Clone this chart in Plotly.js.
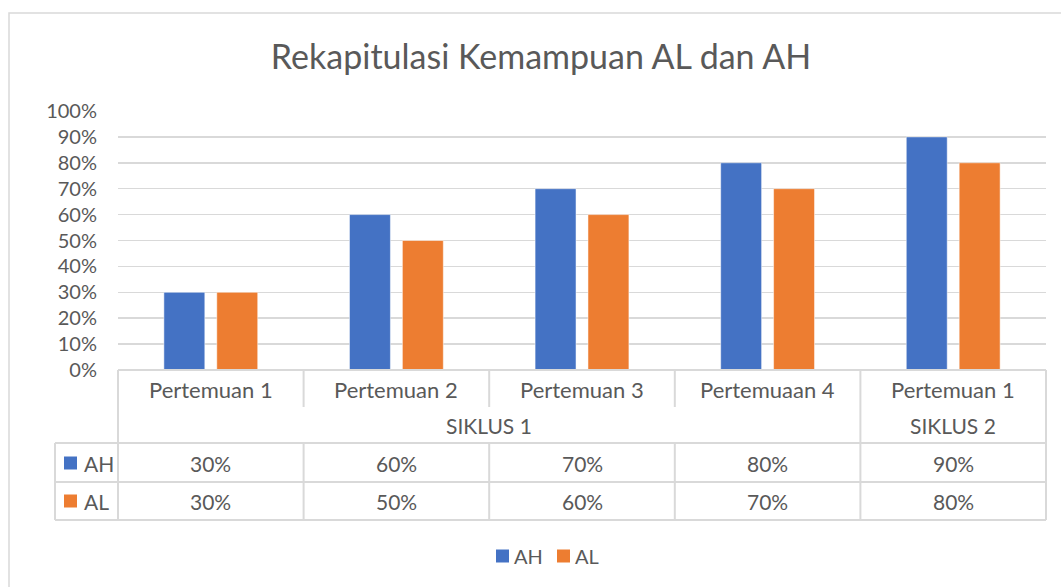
<!DOCTYPE html>
<html>
<head>
<meta charset="utf-8">
<script src="https://cdn.plot.ly/plotly-3.0.1.min.js"></script>
<style>html,body{margin:0;padding:0;background:#fff;}#chart{width:1061px;height:587px;}</style>
</head>
<body>
<div id="chart"></div>
<script>
// ---- data ----
const categories = ['Pertemuan 1', 'Pertemuan 2', 'Pertemuan 3', 'Pertemuaan 4', 'Pertemuan 1'];
const cycles = ['SIKLUS 1', 'SIKLUS 1', 'SIKLUS 1', 'SIKLUS 1', 'SIKLUS 2'];
const seriesNames = ['AH', 'AL'];
const ahValues = [0.30, 0.60, 0.70, 0.80, 0.90];
const alValues = [0.30, 0.50, 0.60, 0.70, 0.80];
const seriesColors = ['#4472C4', '#ED7D31'];
const yTickVals = [0, 0.1, 0.2, 0.3, 0.4, 0.5, 0.6, 0.7, 0.8, 0.9, 1.0];

// ---- geometry helpers (pixel -> paper) ----
const W = 1061, H = 587;
const L = 118, R = 15, T = 111, B = 217;
const PW = W - L - R, PH = H - T - B;
const px = x => (x - L) / PW;
const py = y => (T + PH - y) / PH;
const n = categories.length;
const catPaper = v => (v + 0.5) / n;

const FONT = 'Lato, "Open Sans", sans-serif';
const TXT = '#595959';
const LINE = '#d9d9d9';

const idx = categories.map((_, i) => i);
const allSeries = [ahValues, alValues];

const traces = allSeries.map((vals, k) => ({
  type: 'bar',
  name: seriesNames[k],
  x: idx,
  y: vals,
  marker: {color: seriesColors[k], line: {color: 'rgba(255,255,255,0.5)', width: 1}},
  hoverinfo: 'skip'
}));

const shapes = [];
const line = (x0, y0, x1, y1, w) => shapes.push({type: 'line', xref: 'paper', yref: 'paper',
  x0: x0, y0: y0, x1: x1, y1: y1, line: {color: LINE, width: w || 2}});
const square = (xl, yc, color) => shapes.push({type: 'rect', xref: 'paper', yref: 'paper',
  x0: px(xl), x1: px(xl + 13), y0: py(yc + 6.5), y1: py(yc - 6.5), fillcolor: color, line: {width: 0}});

// chart outer border
shapes.push({type: 'rect', xref: 'paper', yref: 'paper', x0: px(9), x1: px(1080), y0: py(13), y1: py(600),
  line: {color: LINE, width: 1.5}, fillcolor: 'rgba(0,0,0,0)', layer: 'below'});

// table horizontal lines
line(0, py(370), 1, py(370));
line(px(55), py(443), 1, py(443));
line(px(55), py(482), 1, py(482));
line(px(55), py(520), 1, py(520));
// outer verticals
line(0, py(370), 0, py(520));
line(1, py(370), 1, py(520));
line(px(55), py(443), px(55), py(520));
// inner category boundaries
for (let i = 0; i < n - 1; i++) {
  const xb = catPaper(i + 0.5);
  if (cycles[i] !== cycles[i + 1]) {
    line(xb, py(370), xb, py(520));
  } else {
    line(xb, py(370), xb, py(407));
    line(xb, py(443), xb, py(520));
  }
}

const annotations = [];
const ann = (x, xref, y, text, size, extra) => annotations.push(Object.assign({
  x: x, xref: xref, y: y, yref: 'paper', text: text, showarrow: false,
  xanchor: 'center', yanchor: 'middle', font: {family: FONT, size: size, color: TXT}
}, extra || {}));

// category labels
categories.forEach((c, i) => ann(i, 'x', py(389), c, 22));
// cycle labels (group spans)
let start = 0;
for (let i = 1; i <= n; i++) {
  if (i === n || cycles[i] !== cycles[start]) {
    ann((start + i - 1) / 2, 'x', py(425), cycles[start], 21);
    start = i;
  }
}
// value rows
const rowY = [463, 501];
allSeries.forEach((vals, k) => {
  vals.forEach((v, i) => ann(i, 'x', py(rowY[k]), Math.round(v * 100) + '%', 21));
  // legend key in table
  square(64, rowY[k], seriesColors[k]);
  ann(px(82), 'paper', py(rowY[k]), seriesNames[k], 21, {xanchor: 'left'});
});

// bottom legend (drawn manually to match key style)
const legendX = [496, 557];
seriesNames.forEach((s, k) => {
  square(legendX[k], 556, seriesColors[k]);
  ann(px(legendX[k] + 16), 'paper', py(556), s, 20, {xanchor: 'left'});
});

const layout = {
  width: W, height: H,
  margin: {l: L, r: R, t: T, b: B},
  paper_bgcolor: '#fff', plot_bgcolor: '#fff',
  title: {text: 'Rekapitulasi Kemampuan AL dan AH', x: 541 / W, xanchor: 'center', y: 1 - 57 / H, yanchor: 'middle',
    font: {family: FONT, size: 34, color: TXT}},
  barmode: 'group', bargap: 0.43, bargroupgap: 0.226,
  xaxis: {range: [-0.5, n - 0.5], showticklabels: false, showgrid: false, zeroline: false, showline: false, ticks: '', fixedrange: true},
  yaxis: {range: [0, 1], tickvals: yTickVals, tickformat: '.0%', showgrid: true, gridcolor: LINE, gridwidth: 1.5,
    zeroline: false, showline: false, ticks: '', ticklabelstandoff: 20,
    tickfont: {family: FONT, size: 20, color: TXT}, fixedrange: true},
  showlegend: false,
  shapes: shapes,
  annotations: annotations
};

Plotly.newPlot('chart', traces, layout, {displayModeBar: false, staticPlot: true});
</script>
</body>
</html>
